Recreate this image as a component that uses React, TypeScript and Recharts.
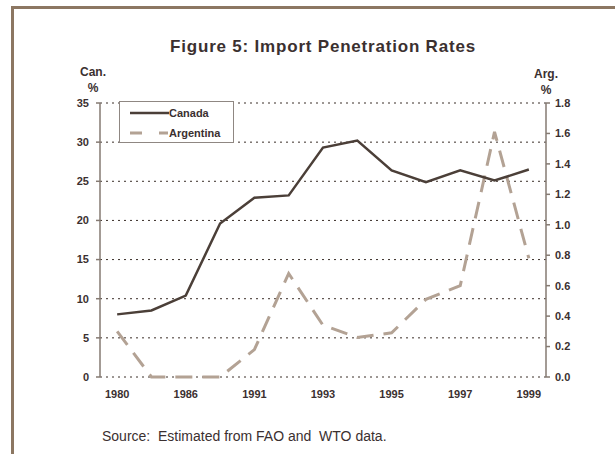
import React from "react";
import { LineChart, Line, XAxis, YAxis, CartesianGrid, Legend } from "recharts";

const years = ["1980", "1983", "1986", "1989", "1991", "1992", "1993", "1994", "1995", "1996", "1997", "1998", "1999"];
const canada = [8.0, 8.5, 10.4, 19.6, 22.9, 23.2, 29.3, 30.2, 26.4, 24.9, 26.4, 25.1, 26.5];
const argentina = [0.3, 0, 0, 0, 0.18, 0.68, 0.34, 0.26, 0.29, 0.51, 0.6, 1.61, 0.78];
const canTicks = [0, 5, 10, 15, 20, 25, 30, 35];
const argTicks = [0, 0.2, 0.4, 0.6, 0.8, 1.0, 1.2, 1.4, 1.6, 1.8];

// numeric x so the tick marks can sit on category boundaries
const data = years.map((y, i) => ({ x: i + 0.5, year: y, canada: canada[i], argentina: argentina[i] }));
const boundaryTicks = years.map((_, i) => i).concat([years.length]);
const labelTicks = data.filter((_, i) => i % 2 === 0).map((d) => d.x);

const FONT = '"Liberation Sans", Arial, sans-serif';
const TEXT = "#3b3030";
const AXIS = "#857a72";
const CAN_COLOR = "#4b3f38";
const ARG_COLOR = "#b3a294";

const tickStyle = { fontFamily: FONT, fontSize: 11, fontWeight: "bold", fill: TEXT };

const renderLegend = () => (
  <div
    style={{
      width: 113,
      height: 40,
      border: "1px solid #8f8782",
      background: "#fff",
      fontFamily: FONT,
      fontSize: 11,
      fontWeight: "bold",
      color: TEXT,
    }}
  >
    <div style={{ display: "flex", alignItems: "center", height: 20, marginTop: 1 }}>
      <svg width={50} height={6} style={{ marginLeft: 10 }}>
        <line x1={0} y1={3} x2={39} y2={3} stroke={CAN_COLOR} strokeWidth={2.5} />
      </svg>
      <span style={{ marginLeft: -11 }}>Canada</span>
    </div>
    <div style={{ display: "flex", alignItems: "center", height: 20 }}>
      <svg width={50} height={6} style={{ marginLeft: 10 }}>
        <line x1={0} y1={3} x2={38} y2={3} stroke={ARG_COLOR} strokeWidth={3} strokeDasharray="12 17" />
      </svg>
      <span style={{ marginLeft: -11 }}>Argentina</span>
    </div>
  </div>
);

export default function App() {
  return (
    <div style={{ position: "absolute", left: 0, top: 0, width: 615, height: 454, background: "#fff", overflow: "hidden" }}>
      <div
        style={{
          position: "absolute",
          left: 11,
          top: 6,
          width: 620,
          height: 460,
          borderTop: "3px solid #8c7762",
          borderLeft: "3px solid #8c7762",
        }}
      />
      <div style={{ position: "absolute", left: 90, width: 466, top: 37, textAlign: "center", fontFamily: FONT, fontSize: 17, letterSpacing: 0.8, fontWeight: "bold", color: TEXT }}>
        Figure 5: Import Penetration Rates
      </div>
      <div style={{ position: "absolute", left: 63, width: 60, top: 64, textAlign: "center", fontFamily: FONT, fontSize: 12, fontWeight: "bold", color: TEXT, lineHeight: "16px" }}>
        Can.<br />%
      </div>
      <div style={{ position: "absolute", left: 516, width: 60, top: 66, textAlign: "center", fontFamily: FONT, fontSize: 12, fontWeight: "bold", color: TEXT, lineHeight: "16px" }}>
        Arg.<br />%
      </div>
      <div style={{ position: "absolute", left: 102, top: 428, fontFamily: FONT, fontSize: 14, color: TEXT, whiteSpace: "pre" }}>
        {"Source:  Estimated from FAO and  WTO data."}
      </div>
      <div style={{ position: "absolute", left: 0, top: 0 }}>
        <LineChart width={615} height={454} data={data} margin={{ top: 103, right: 20, left: 50, bottom: 47 }}>
          <CartesianGrid yAxisId="left" vertical={false} stroke="#3a2e28" strokeDasharray="2 4" />
          <XAxis
            xAxisId="bounds"
            dataKey="x"
            type="number"
            domain={[0, years.length]}
            ticks={boundaryTicks}
            tick={false}
            height={0}
            tickSize={4}
            stroke={AXIS}
            strokeWidth={1.5}
          />
          <XAxis
            xAxisId="labels"
            dataKey="x"
            type="number"
            domain={[0, years.length]}
            ticks={labelTicks}
            tickFormatter={(v: number) => years[Math.floor(v)]}
            axisLine={false}
            tickLine={false}
            tickSize={5}
            tickMargin={8}
            height={30}
            tick={tickStyle}
            interval={0}
          />
          <YAxis
            yAxisId="left"
            domain={[0, 35]}
            ticks={canTicks}
            width={50}
            tickSize={4}
            tickMargin={7}
            stroke={AXIS}
            strokeWidth={1.5}
            tick={tickStyle}
            interval={0}
          />
          <YAxis
            yAxisId="right"
            orientation="right"
            domain={[0, 1.8]}
            ticks={argTicks}
            tickFormatter={(v: number) => v.toFixed(1)}
            width={49}
            tickSize={4}
            tickMargin={5}
            stroke={AXIS}
            strokeWidth={1.5}
            tick={tickStyle}
            interval={0}
          />
          <Legend
            layout="vertical"
            align="center"
            verticalAlign="middle"
            content={renderLegend}
            wrapperStyle={{ position: "absolute", left: 119, top: 101, width: 115, height: 42 }}
          />
          <Line
            xAxisId="labels"
            yAxisId="right"
            dataKey="argentina"
            name="Argentina"
            stroke={ARG_COLOR}
            strokeWidth={3}
            strokeDasharray="17 10"
            dot={false}
            type="linear"
            isAnimationActive={false}
          />
          <Line
            xAxisId="labels"
            yAxisId="left"
            dataKey="canada"
            name="Canada"
            stroke={CAN_COLOR}
            strokeWidth={2.5}
            dot={false}
            type="linear"
            isAnimationActive={false}
          />
        </LineChart>
      </div>
    </div>
  );
}
